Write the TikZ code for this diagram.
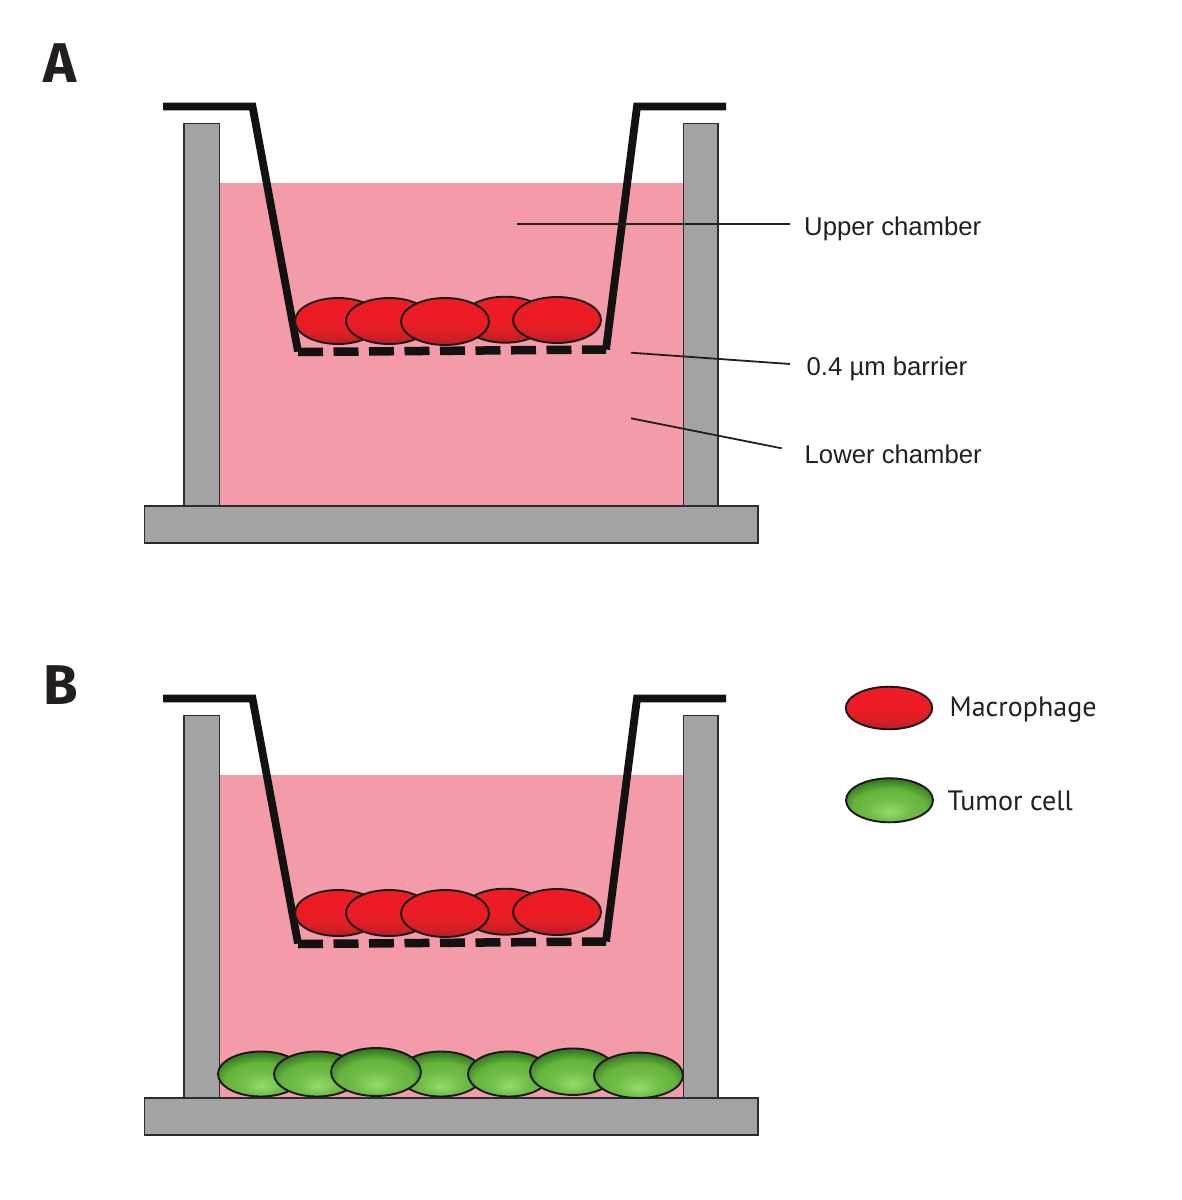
\documentclass[tikz,border=0pt]{standalone}
\usepackage{fontspec}
\setmainfont{Liberation Sans}
\newfontfamily\legendfont{PT Sans}
\newfontfamily\panelfont{Fira Sans}
\usetikzlibrary{shapes.geometric}

\definecolor{pinkfill}{RGB}{244,155,169}
\definecolor{wallgray}{RGB}{163,163,163}
\definecolor{wallline}{RGB}{45,45,45}
\definecolor{insertblack}{RGB}{18,18,18}
\definecolor{textgray}{RGB}{35,31,32}
\definecolor{redtop}{RGB}{237,28,36}
\definecolor{redmid}{RGB}{222,30,38}
\definecolor{redbot}{RGB}{185,30,40}
\definecolor{greenlight}{RGB}{152,218,112}
\definecolor{greenmid}{RGB}{100,180,58}
\definecolor{greendark}{RGB}{58,122,36}
\definecolor{greendeep}{RGB}{45,100,28}

\pgfdeclareverticalshading{macroshade}{100bp}{color(0bp)=(redbot); color(25bp)=(redbot); color(38bp)=(redmid); color(52bp)=(redtop); color(100bp)=(redtop)}
\pgfdeclareradialshading{tumorshade}{\pgfpoint{0bp}{-14bp}}{color(0bp)=(greenlight); color(12bp)=(greenmid!75!greenlight); color(21bp)=(greenmid); color(29bp)=(greendark); color(50bp)=(greendeep)}

\tikzset{
  wall/.style={fill=wallgray, draw=wallline, line width=1.2pt},
  insertline/.style={draw=insertblack, line width=7.8pt, line join=miter},
  barrier/.style={draw=insertblack, line width=8.5pt, dash pattern=on 25pt off 10.5pt},
  cellline/.style={draw=black!90, line width=1.9pt},
  macro/.style={ellipse, cellline, shading=macroshade, inner sep=0pt},
  tumor/.style={ellipse, cellline, shading=tumorshade, inner sep=0pt},
  lbl/.style={inner sep=0pt, text=textgray, font=\fontsize{25.7}{30}\selectfont},
  legendlbl/.style={inner sep=0pt, text=textgray, font=\legendfont\fontsize{28}{33}\selectfont},
  panellbl/.style={inner sep=0pt, text=textgray, font=\panelfont\bfseries\fontsize{56}{60}\selectfont},
  leader/.style={draw=textgray, line width=1.8pt},
}

\newcommand\drawwell[1]{%
  \fill[pinkfill] (220,183) rectangle (683,506);
  \draw[wall] (184,123.5) rectangle (219.5,506);
  \draw[wall] (683.5,123.5) rectangle (718,506);
  \draw[wall] (144.5,506) rectangle (758,543);
  \draw[insertline] (163,106.5) -- (252.5,106.5) -- (298,351.5);
  \draw[insertline] (606,349.5) -- (637,106.5) -- (726,106.5);
  \draw[barrier] (298,352) -- (606,349.5);
  \node[macro, minimum width=86pt, minimum height=46pt] (#1m1) at (338,321) {};
  \node[macro, minimum width=86pt, minimum height=46pt] (#1m2) at (389,321) {};
  \node[macro, minimum width=86pt, minimum height=46pt] (#1m4) at (505,319.7) {};
  \node[macro, minimum width=88pt, minimum height=47pt] (#1m3) at (445,321.5) {};
  \node[macro, minimum width=88pt, minimum height=46pt] (#1m5) at (557,320) {};
}

\begin{document}
\begin{tikzpicture}[x=1pt, y=-1pt]
  \useasboundingbox (0,0) rectangle (1182,1200);
  \fill[white] (0,0) rectangle (1182,1200);

  % Panel A
  \node[panellbl, anchor=base west] (labA) at (43,82.3) {A};
  \drawwell{a}
  \node[lbl, anchor=base west] (upper) at (804,235) {Upper chamber};
  \node[lbl, anchor=base west] (barr) at (806.5,375.5) {0.4 µm barrier};
  \node[lbl, anchor=base west] (lower) at (804.5,463.3) {Lower chamber};
  \coordinate (upS) at (517,224);
  \coordinate (upE) at (790,224);
  \coordinate (baS) at (631,352.7);
  \coordinate (baE) at (790,364);
  \coordinate (loS) at (631,418.3);
  \coordinate (loE) at (781.7,448.3);
  \draw[leader] (upS) -- (upE);
  \draw[leader] (baS) -- (baE);
  \draw[leader] (loS) -- (loE);

  % Panel B
  \node[panellbl, anchor=base west] (labB) at (43,704.5) {B};
  \begin{scope}[shift={(0,592)}]
    \drawwell{b}
  \end{scope}
  \node[tumor, minimum width=86pt, minimum height=45pt] (t1) at (261,1074) {};
  \node[tumor, minimum width=86pt, minimum height=45pt] (t2) at (317,1074) {};
  \node[tumor, minimum width=84pt, minimum height=45pt] (t4) at (441,1074) {};
  \node[tumor, minimum width=90pt, minimum height=48pt] (t3) at (376,1072) {};
  \node[tumor, minimum width=82pt, minimum height=45pt] (t5) at (509,1074) {};
  \node[tumor, minimum width=86pt, minimum height=46.5pt] (t6) at (573,1071.7) {};
  \node[tumor, minimum width=89pt, minimum height=45.5pt] (t7) at (638.5,1075.3) {};

  % Legend
  \node[macro, minimum width=86.5pt, minimum height=42.5pt] (legmac) at (889,708) {};
  \node[tumor, minimum width=87pt, minimum height=44pt] (legtum) at (889.5,800.3) {};
  \node[legendlbl, anchor=base west] (legmactxt) at (949.5,716.7) {Macrophage};
  \node[legendlbl, anchor=base west] (legtumtxt) at (947.5,810) {Tumor cell};
\end{tikzpicture}
\end{document}
